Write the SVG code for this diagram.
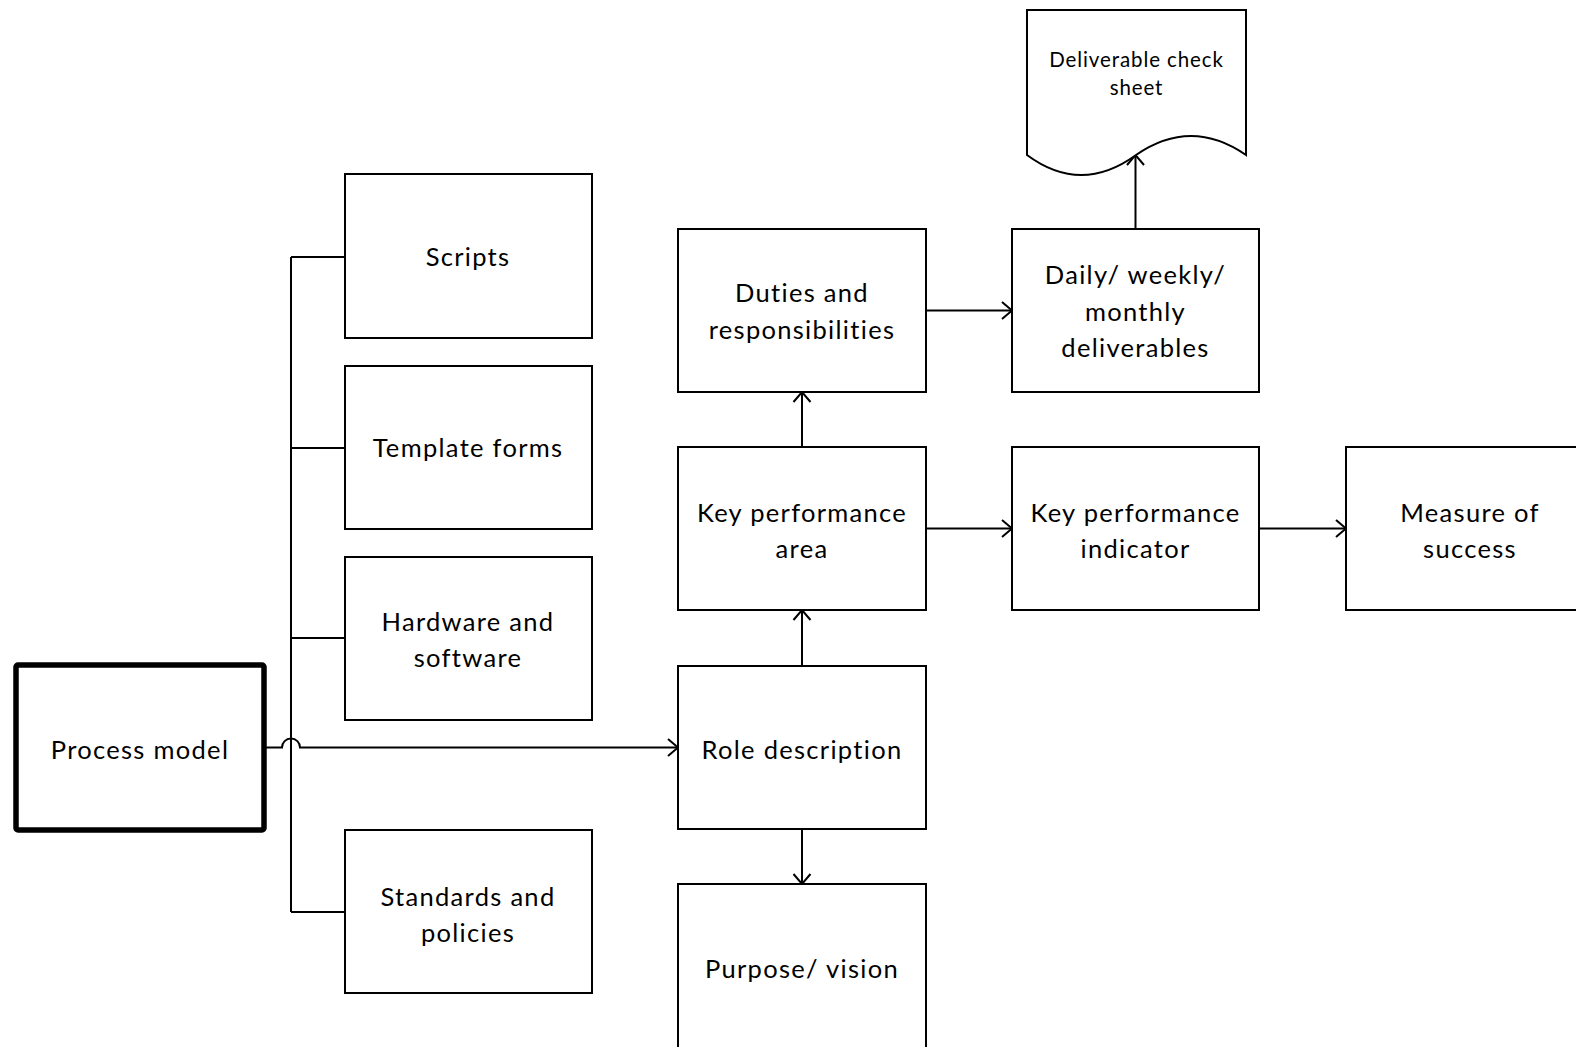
<svg xmlns="http://www.w3.org/2000/svg" width="1576" height="1047" viewBox="0 0 1576 1047">
  <style>
    .box { fill: #ffffff; stroke: #000000; stroke-width: 2; }
    .main { fill: #ffffff; stroke: #000000; stroke-width: 5.5; }
    .lbl { font-family: Lato, "Open Sans", "Liberation Sans", sans-serif; font-size: 25.5px; letter-spacing: 1.3px; fill: #000000; text-anchor: middle; dominant-baseline: central; }
    .small { font-size: 20.5px; letter-spacing: 0.9px; }
    .wire { fill: none; stroke: #000000; stroke-width: 2; }
    .arrow { fill: none; stroke: #000000; stroke-width: 2; marker-end: url(#vee); }
  </style>
  <defs>
    <marker id="vee" markerWidth="14" markerHeight="20" refX="12" refY="10" orient="auto" markerUnits="userSpaceOnUse">
      <path d="M2,1.5 L12,10 L2,18.5" fill="none" stroke="#000000" stroke-width="2"/>
    </marker>
  </defs>
  <rect width="1576" height="1047" fill="#ffffff"/>

  <!-- connectors -->
  <g id="connectors">
    <path class="wire" d="M291,257 V912"/>
    <path class="wire" d="M291,257 H345"/>
    <path class="wire" d="M291,448 H345"/>
    <path class="wire" d="M291,638 H345"/>
    <path class="wire" d="M291,912 H345"/>
    <path class="arrow" d="M264,747.5 H282 A9,9 0 0 1 300,747.5 H678"/>
    <path class="arrow" d="M802,666 V610"/>
    <path class="arrow" d="M802,447 V392"/>
    <path class="arrow" d="M802,829 V884"/>
    <path class="arrow" d="M926,310.5 H1012"/>
    <path class="arrow" d="M926,528.5 H1012"/>
    <path class="arrow" d="M1259,528.5 H1346"/>
    <path class="arrow" d="M1135.5,229 V155"/>
  </g>

  <g id="process-model">
    <rect class="main" x="16" y="665" width="248" height="165" rx="2"/>
    <text class="lbl" x="140" y="749">Process model</text>
  </g>

  <g id="scripts">
    <rect class="box" x="345" y="174" width="247" height="164"/>
    <text class="lbl" x="468" y="256">Scripts</text>
  </g>
  <g id="template-forms">
    <rect class="box" x="345" y="366" width="247" height="163"/>
    <text class="lbl" x="468" y="447">Template forms</text>
  </g>
  <g id="hardware-software">
    <rect class="box" x="345" y="557" width="247" height="163"/>
    <text class="lbl" x="468" y="621">Hardware and</text>
    <text class="lbl" x="468" y="657">software</text>
  </g>
  <g id="standards-policies">
    <rect class="box" x="345" y="830" width="247" height="163"/>
    <text class="lbl" x="468" y="896">Standards and</text>
    <text class="lbl" x="468" y="932">policies</text>
  </g>

  <g id="duties">
    <rect class="box" x="678" y="229" width="248" height="163"/>
    <text class="lbl" x="802" y="292">Duties and</text>
    <text class="lbl" x="802" y="329">responsibilities</text>
  </g>
  <g id="kpa">
    <rect class="box" x="678" y="447" width="248" height="163"/>
    <text class="lbl" x="802" y="512">Key performance</text>
    <text class="lbl" x="802" y="548">area</text>
  </g>
  <g id="role-description">
    <rect class="box" x="678" y="666" width="248" height="163"/>
    <text class="lbl" x="802" y="749">Role description</text>
  </g>
  <g id="purpose-vision">
    <rect class="box" x="678" y="884" width="248" height="175"/>
    <text class="lbl" x="802" y="968">Purpose/ vision</text>
  </g>

  <g id="deliverables">
    <rect class="box" x="1012" y="229" width="247" height="163"/>
    <text class="lbl" x="1135.5" y="274">Daily/ weekly/</text>
    <text class="lbl" x="1135.5" y="311">monthly</text>
    <text class="lbl" x="1135.5" y="347">deliverables</text>
  </g>
  <g id="kpi">
    <rect class="box" x="1012" y="447" width="247" height="163"/>
    <text class="lbl" x="1135.5" y="512">Key performance</text>
    <text class="lbl" x="1135.5" y="548">indicator</text>
  </g>
  <g id="measure-of-success">
    <rect class="box" x="1346" y="447" width="248" height="163"/>
    <text class="lbl" x="1470" y="512">Measure of</text>
    <text class="lbl" x="1470" y="548">success</text>
  </g>

  <g id="check-sheet">
    <path class="box" d="M1027,155 V10 H1246 V155 Q1191,117 1136,155 Q1081,195 1027,155 Z"/>
    <text class="lbl small" x="1136.5" y="59">Deliverable check</text>
    <text class="lbl small" x="1136.5" y="87">sheet</text>
  </g>
</svg>
